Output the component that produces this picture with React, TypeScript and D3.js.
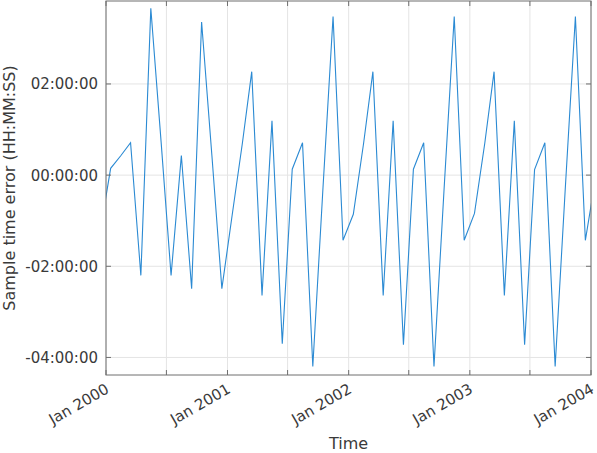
import React from 'react';
import * as d3 from 'd3';

// monthly samples, mid-month, Dec 1999 .. Jan 2004 (first and last clipped by the axes)
const sampleDates = [
  '1999-12-15',
  '2000-01-15', '2000-02-15', '2000-03-15', '2000-04-15', '2000-05-15', '2000-06-15',
  '2000-07-15', '2000-08-15', '2000-09-15', '2000-10-15', '2000-11-15', '2000-12-15',
  '2001-01-15', '2001-02-15', '2001-03-15', '2001-04-15', '2001-05-15', '2001-06-15',
  '2001-07-15', '2001-08-15', '2001-09-15', '2001-10-15', '2001-11-15', '2001-12-15',
  '2002-01-15', '2002-02-15', '2002-03-15', '2002-04-15', '2002-05-15', '2002-06-15',
  '2002-07-15', '2002-08-15', '2002-09-15', '2002-10-15', '2002-11-15', '2002-12-15',
  '2003-01-15', '2003-02-15', '2003-03-15', '2003-04-15', '2003-05-15', '2003-06-15',
  '2003-07-15', '2003-08-15', '2003-09-15', '2003-10-15', '2003-11-15', '2003-12-15',
  '2004-01-15',
];

// sample time error, in hours
const errorHours = [
  -1.21,
  0.15, 0.43, 0.71, -2.20, 3.66, 0.73, -2.20, 0.43, -2.49, 3.36, 0.43, -2.49,
  -0.88, 0.71, 2.27, -2.64, 1.19, -3.70, 0.13, 0.71, -4.20, -0.36, 3.48, -1.43,
  -0.86, 0.70, 2.27, -2.64, 1.19, -3.72, 0.13, 0.71, -4.20, -0.36, 3.48, -1.43,
  -0.84, 0.70, 2.27, -2.64, 1.19, -3.72, 0.12, 0.71, -4.20, -0.36, 3.48, -1.43,
  -0.05,
];

const xTickDates = [
  '2000-01-01', '2000-07-01', '2001-01-01', '2001-07-01', '2002-01-01',
  '2002-07-01', '2003-01-01', '2003-07-01', '2004-01-01',
];
const yTickHours = [-4, -2, 0, 2];
const xDomain = ['2000-01-01', '2004-01-01'];
const yDomain = [-4.385, 3.82];

const W = 597;
const H = 453;
const margin = { left: 106, right: 6, top: 1, bottom: 78 };

const parse = d3.utcParse('%Y-%m-%d');
const fmtMonth = d3.utcFormat('%b %Y');

function fmtHMS(h: number) {
  const sign = h < 0 ? '-' : '';
  const s = Math.round(Math.abs(h) * 3600);
  const hh = Math.floor(s / 3600);
  const mm = Math.floor((s % 3600) / 60);
  const ss = s % 60;
  const p = (n: number) => String(n).padStart(2, '0');
  return `${sign}${p(hh)}:${p(mm)}:${p(ss)}`;
}

export default function App() {
  const x0 = margin.left, x1 = W - margin.right;
  const y0 = margin.top, y1 = H - margin.bottom;

  const x = d3.scaleUtc()
    .domain(xDomain.map((d) => parse(d) as Date))
    .range([x0, x1]);
  const y = d3.scaleLinear().domain(yDomain).range([y1, y0]);

  const data = sampleDates.map((d, i) => ({ date: parse(d) as Date, value: errorHours[i] }));
  const line = d3.line<{ date: Date; value: number }>()
    .x((d) => x(d.date))
    .y((d) => y(d.value));

  const xTicks = xTickDates.map((d) => parse(d) as Date);
  const axisColor = '#6f6f6f';
  const textColor = '#3a3a3a';
  const gridColor = '#e4e4e4';
  const tickLen = 5;
  const font = '"DejaVu Sans", sans-serif';

  return (
    <div style={{ position: 'fixed', left: 0, top: 0 }}>
      <svg width={W} height={H} style={{ display: 'block', fontFamily: font }}>
        <defs>
          <clipPath id="plot-clip">
            <rect x={x0} y={y0} width={x1 - x0} height={y1 - y0} />
          </clipPath>
        </defs>
        <rect x={0} y={0} width={W} height={H} fill="#fff" />

        {/* grid */}
        {xTicks.map((t, i) => (
          <line key={'gx' + i} x1={x(t)} x2={x(t)} y1={y0} y2={y1} stroke={gridColor} strokeWidth={1} />
        ))}
        {yTickHours.map((v) => (
          <line key={'gy' + v} x1={x0} x2={x1} y1={y(v)} y2={y(v)} stroke={gridColor} strokeWidth={1} />
        ))}

        <path d={line(data) || ''} fill="none" stroke="#2b8ad3" strokeWidth={1.1}
          strokeLinejoin="miter" clipPath="url(#plot-clip)" />

        {/* box + inward ticks on all sides */}
        <rect x={x0} y={y0} width={x1 - x0} height={y1 - y0} fill="none" stroke={axisColor} strokeWidth={1} />
        {xTicks.map((t, i) => (
          <g key={'tx' + i}>
            <line x1={x(t)} x2={x(t)} y1={y1} y2={y1 - tickLen} stroke={axisColor} />
            <line x1={x(t)} x2={x(t)} y1={y0} y2={y0 + tickLen} stroke={axisColor} />
          </g>
        ))}
        {yTickHours.map((v) => (
          <g key={'ty' + v}>
            <line x1={x0} x2={x0 + tickLen} y1={y(v)} y2={y(v)} stroke={axisColor} />
            <line x1={x1} x2={x1 - tickLen} y1={y(v)} y2={y(v)} stroke={axisColor} />
          </g>
        ))}

        {/* y tick labels */}
        {yTickHours.map((v) => (
          <text key={'ly' + v} x={x0 - 8} y={y(v)} dy="0.36em" textAnchor="end"
            fontSize={15} fill={textColor}>{fmtHMS(v)}</text>
        ))}

        {/* x tick labels, yearly */}
        {xTicks.filter((t) => t.getUTCMonth() === 0).map((t, i) => (
          <text key={'lx' + i} transform={`translate(${x(t) + 4},${y1 + 17}) rotate(-30)`}
            textAnchor="end" fontSize={15} fill={textColor}>{fmtMonth(t)}</text>
        ))}

        <text x={(x0 + x1) / 2} y={H - 4} textAnchor="middle" fontSize={16} fill={textColor}>Time</text>
        <text transform={`translate(15,${(y0 + y1) / 2}) rotate(-90)`} textAnchor="middle"
          fontSize={16} fill={textColor}>Sample time error (HH:MM:SS)</text>
      </svg>
    </div>
  );
}
